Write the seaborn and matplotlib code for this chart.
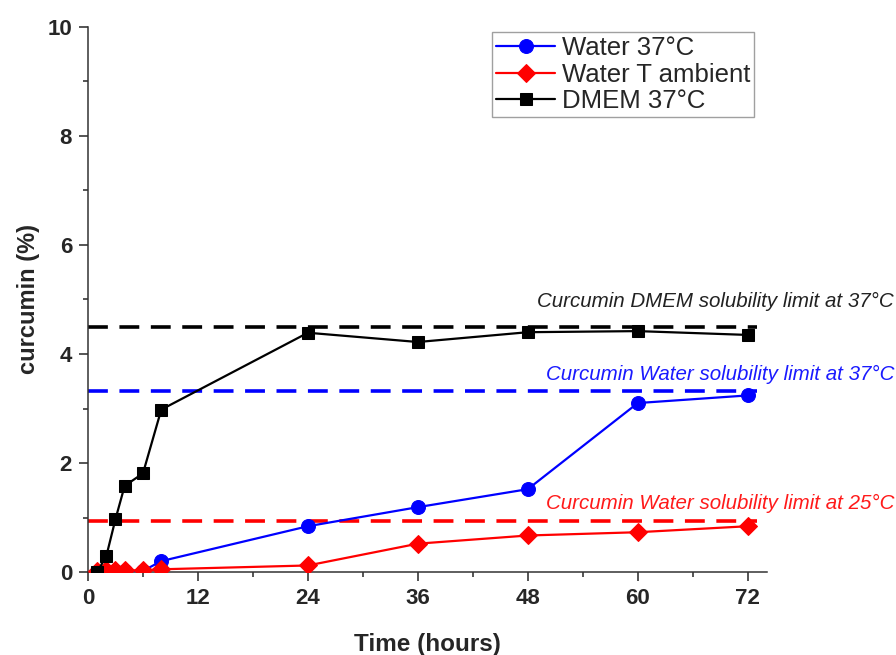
import numpy as np
import pandas as pd
import matplotlib
matplotlib.use('Agg')
import matplotlib.pyplot as plt
import seaborn as sns
from matplotlib.ticker import MultipleLocator

# datos
tiempo = [1, 2, 3, 4, 6, 8, 24, 36, 48, 60, 72]
agua_37 = [0.0, 0.0, 0.01, 0.01, 0.02, 0.2, 0.84, 1.19, 1.52, 3.1, 3.24]
agua_amb = [0.02, 0.03, 0.03, 0.03, 0.03, 0.05, 0.12, 0.52, 0.67, 0.73, 0.84]
dmem_37 = [0.0, 0.29, 0.97, 1.58, 1.81, 2.98, 4.39, 4.22, 4.40, 4.42, 4.35]

series = ['Water 37°C', 'Water T ambient', 'DMEM 37°C']
colores = ['#0000ff', '#ff0000', '#000000']
marcadores = ['o', 'D', 's']
tam_marcador = [10, 9, 8]

# limites de solubilidad (lineas punteadas)
limites = [4.5, 3.33, 0.93]
limites_txt = ['Curcumin DMEM solubility limit at 37°C',
               'Curcumin Water solubility limit at 37°C',
               'Curcumin Water solubility limit at 25°C']
limites_col = ['#000000', '#0000ff', '#ff0000']
limites_txt_col = ['#222222', '#1a1aff', '#ff1a1a']
lim_x = [0, 73]

sns.set_style('ticks')
plt.rcParams['font.family'] = ['Liberation Sans', 'DejaVu Sans']

fig = plt.figure(figsize=(8.96, 6.55), dpi=100)
ax = fig.add_axes([0.0982, 0.1267, 0.7578, 0.8321])

for y, col in zip(limites, limites_col):
    ax.hlines(y, lim_x[0], lim_x[1], colors=col, linewidth=2.6,
              linestyles=(0, (5.5, 3.2)), zorder=1)

datos = [agua_37, agua_amb, dmem_37]
for nombre, vals, c, m, ms in zip(series, datos, colores, marcadores, tam_marcador):
    sns.lineplot(x=tiempo, y=vals, ax=ax, color=c, marker=m, markersize=ms,
                 markeredgecolor=c, linewidth=1.6, label=nombre, zorder=3)

# textos de los limites
y_txt = [4.86, 3.52, 1.16]
for y, txt, col in zip(y_txt, limites_txt, limites_txt_col):
    ax.text(1.187, y, txt, transform=ax.get_yaxis_transform(), ha='right',
            va='baseline', fontsize=14.8, style='italic', color=col, clip_on=False)

ax.set_xlim(0, 74.1)
ax.set_ylim(0, 10)
ax.set_xticks([0, 12, 24, 36, 48, 60, 72])
ax.set_yticks([0, 2, 4, 6, 8, 10])
ax.xaxis.set_minor_locator(MultipleLocator(6))
ax.yaxis.set_minor_locator(MultipleLocator(1))
ax.tick_params(which='major', direction='out', length=6.5, width=1.1,
               labelsize=16, pad=5)
ax.tick_params(which='minor', direction='out', length=3.5, width=1.1)
for lab in ax.get_xticklabels() + ax.get_yticklabels():
    lab.set_fontweight('bold')

for s in ['top', 'right']:
    ax.spines[s].set_visible(False)
for s in ['left', 'bottom']:
    ax.spines[s].set_linewidth(1.1)
    ax.spines[s].set_color('#333333')

ax.set_xlabel('Time (hours)', fontsize=17.5, fontweight='bold', labelpad=17)
ax.set_ylabel('curcumin (%)', fontsize=17, fontweight='bold', labelpad=5)

leg = ax.legend(loc='upper left', bbox_to_anchor=(0.588, 1.0), fontsize=18.5,
                frameon=True, fancybox=False, edgecolor='#888888',
                handlelength=2.3, borderpad=0.15, labelspacing=0.1,
                handletextpad=0.25, borderaxespad=0.2)
leg.get_frame().set_linewidth(1.0)

fig.savefig('out.png', dpi=100)
